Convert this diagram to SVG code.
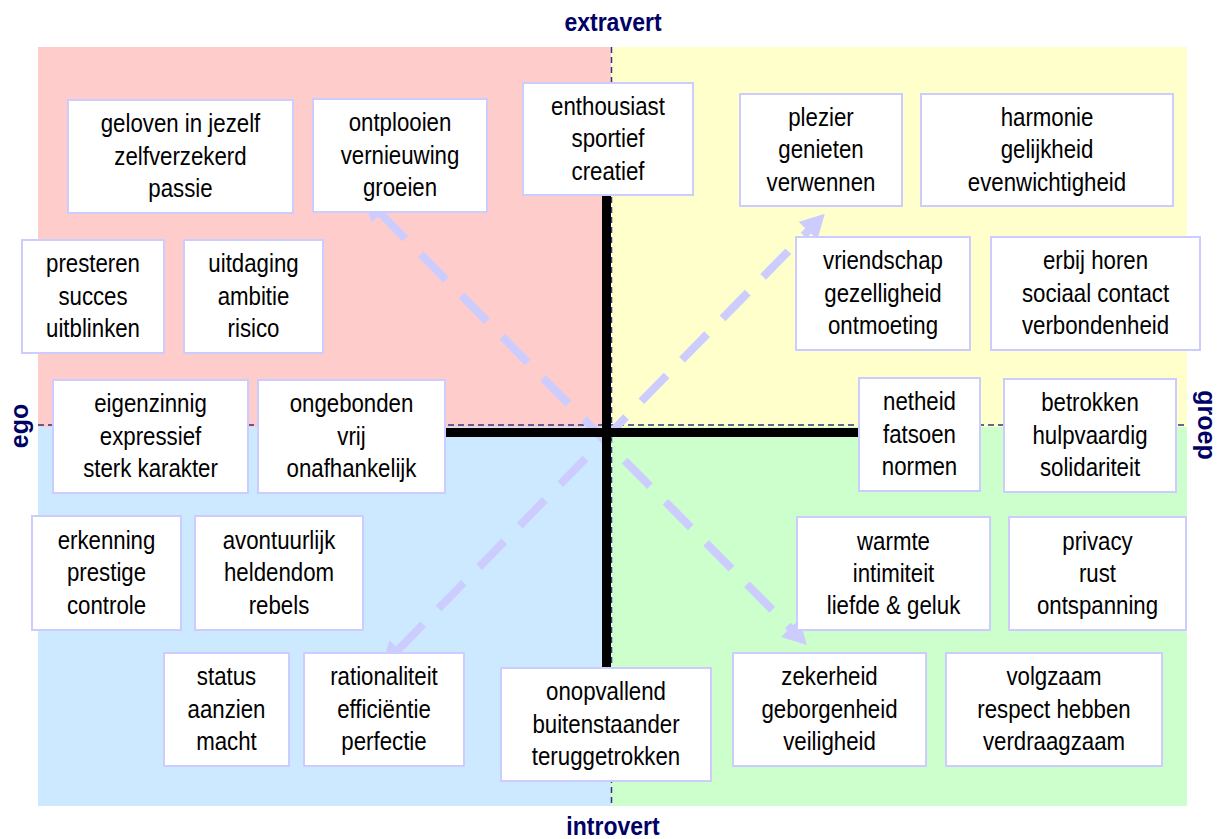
<svg xmlns="http://www.w3.org/2000/svg" width="1228" height="839" viewBox="0 0 1228 839">
<style>
.box{fill:#ffffff;stroke:#ccccff;stroke-width:2}
.t{font-family:"Liberation Sans",Arial,sans-serif;font-size:25px;fill:#000;text-anchor:middle}
.lbl{font-family:"Liberation Sans",Arial,sans-serif;font-size:25px;font-weight:bold;fill:#000066;text-anchor:middle}
.axis{stroke:#333380;stroke-width:1.5;stroke-dasharray:6 4;fill:none}
.cross{stroke:#000;stroke-width:9;fill:none}
.arr{stroke:#ccccff;stroke-width:8;stroke-dasharray:36 22;fill:none;marker-start:url(#ah);marker-end:url(#ah)}
</style>
<defs>
<marker id="ah" viewBox="0 0 24 26" refX="1" refY="13" markerWidth="24" markerHeight="26" markerUnits="userSpaceOnUse" orient="auto-start-reverse">
<path d="M0,0 L24,13 L0,26 Z" fill="#ccccff"/>
</marker>
</defs>
<rect width="1228" height="839" fill="#ffffff"/>
<g id="quadrants">
<rect x="38" y="47" width="573" height="380" fill="#ffcccc"/>
<rect x="611" y="47" width="576" height="380" fill="#ffffcc"/>
<rect x="38" y="427" width="573" height="379" fill="#cce9ff"/>
<rect x="611" y="427" width="576" height="379" fill="#ccffcc"/>
</g>
<g id="axes">
<line class="axis" x1="611.5" y1="47" x2="611.5" y2="806"/>
<line class="axis" x1="38" y1="425" x2="1187" y2="425"/>
</g>
<g id="connectors">
<line class="arr" x1="380" y1="213" x2="790.8" y2="628.6"/>
<line class="arr" x1="398" y1="650" x2="808.7" y2="230.3"/>
</g>
<g id="cross">
<line class="cross" x1="606.5" y1="190" x2="606.5" y2="670"/>
<line class="cross" x1="445" y1="432.5" x2="860" y2="432.5"/>
</g>
<g id="labels">
<text class="lbl" transform="translate(613,31) scale(0.92,1)" x="0" y="0">extravert</text>
<text class="lbl" transform="translate(613,835) scale(0.92,1)" x="0" y="0">introvert</text>
<text class="lbl" transform="translate(28,426) rotate(-90)" x="0" y="0">ego</text>
<text class="lbl" transform="translate(1198,425) rotate(90)" x="0" y="0">groep</text>
</g>
<g id="n1"><rect class="box" x="68" y="100" width="225" height="113"/><text class="t" transform="translate(180.5,0) scale(0.89,1)"><tspan x="0" y="132.5">geloven in jezelf</tspan><tspan x="0" y="165">zelfverzekerd</tspan><tspan x="0" y="197.5">passie</tspan></text></g>
<g id="n2"><rect class="box" x="313" y="99" width="174" height="113"/><text class="t" transform="translate(400,0) scale(0.89,1)"><tspan x="0" y="131.5">ontplooien</tspan><tspan x="0" y="164">vernieuwing</tspan><tspan x="0" y="196.5">groeien</tspan></text></g>
<g id="n3"><rect class="box" x="523" y="83" width="170" height="112"/><text class="t" transform="translate(608,0) scale(0.89,1)"><tspan x="0" y="115">enthousiast</tspan><tspan x="0" y="147.5">sportief</tspan><tspan x="0" y="180">creatief</tspan></text></g>
<g id="n4"><rect class="box" x="740" y="94" width="162" height="112"/><text class="t" transform="translate(821,0) scale(0.89,1)"><tspan x="0" y="126">plezier</tspan><tspan x="0" y="158.5">genieten</tspan><tspan x="0" y="191">verwennen</tspan></text></g>
<g id="n5"><rect class="box" x="921" y="94" width="252" height="112"/><text class="t" transform="translate(1047,0) scale(0.89,1)"><tspan x="0" y="126">harmonie</tspan><tspan x="0" y="158.5">gelijkheid</tspan><tspan x="0" y="191">evenwichtigheid</tspan></text></g>
<g id="n6"><rect class="box" x="22" y="240" width="142" height="113"/><text class="t" transform="translate(93,0) scale(0.89,1)"><tspan x="0" y="272.5">presteren</tspan><tspan x="0" y="305">succes</tspan><tspan x="0" y="337.5">uitblinken</tspan></text></g>
<g id="n7"><rect class="box" x="184" y="240" width="139" height="113"/><text class="t" transform="translate(253.5,0) scale(0.89,1)"><tspan x="0" y="272.5">uitdaging</tspan><tspan x="0" y="305">ambitie</tspan><tspan x="0" y="337.5">risico</tspan></text></g>
<g id="n8"><rect class="box" x="796" y="237" width="174" height="113"/><text class="t" transform="translate(883,0) scale(0.89,1)"><tspan x="0" y="269.5">vriendschap</tspan><tspan x="0" y="302">gezelligheid</tspan><tspan x="0" y="334.5">ontmoeting</tspan></text></g>
<g id="n9"><rect class="box" x="991" y="237" width="209" height="113"/><text class="t" transform="translate(1095.5,0) scale(0.89,1)"><tspan x="0" y="269.5">erbij horen</tspan><tspan x="0" y="302">sociaal contact</tspan><tspan x="0" y="334.5">verbondenheid</tspan></text></g>
<g id="n10"><rect class="box" x="53" y="380" width="195" height="113"/><text class="t" transform="translate(150.5,0) scale(0.89,1)"><tspan x="0" y="412.5">eigenzinnig</tspan><tspan x="0" y="445">expressief</tspan><tspan x="0" y="477.5">sterk karakter</tspan></text></g>
<g id="n11"><rect class="box" x="258" y="380" width="187" height="113"/><text class="t" transform="translate(351.5,0) scale(0.89,1)"><tspan x="0" y="412.5">ongebonden</tspan><tspan x="0" y="445">vrij</tspan><tspan x="0" y="477.5">onafhankelijk</tspan></text></g>
<g id="n12"><rect class="box" x="859" y="378" width="121" height="113"/><text class="t" transform="translate(919.5,0) scale(0.89,1)"><tspan x="0" y="410.5">netheid</tspan><tspan x="0" y="443">fatsoen</tspan><tspan x="0" y="475.5">normen</tspan></text></g>
<g id="n13"><rect class="box" x="1004" y="379" width="172" height="113"/><text class="t" transform="translate(1090,0) scale(0.89,1)"><tspan x="0" y="411.5">betrokken</tspan><tspan x="0" y="444">hulpvaardig</tspan><tspan x="0" y="476.5">solidariteit</tspan></text></g>
<g id="n14"><rect class="box" x="32" y="516" width="149" height="114"/><text class="t" transform="translate(106.5,0) scale(0.89,1)"><tspan x="0" y="549">erkenning</tspan><tspan x="0" y="581.5">prestige</tspan><tspan x="0" y="614">controle</tspan></text></g>
<g id="n15"><rect class="box" x="195" y="516" width="168" height="114"/><text class="t" transform="translate(279,0) scale(0.89,1)"><tspan x="0" y="549">avontuurlijk</tspan><tspan x="0" y="581.5">heldendom</tspan><tspan x="0" y="614">rebels</tspan></text></g>
<g id="n16"><rect class="box" x="797" y="517" width="193" height="113"/><text class="t" transform="translate(893.5,0) scale(0.89,1)"><tspan x="0" y="549.5">warmte</tspan><tspan x="0" y="582">intimiteit</tspan><tspan x="0" y="614.5">liefde &amp; geluk</tspan></text></g>
<g id="n17"><rect class="box" x="1009" y="517" width="177" height="113"/><text class="t" transform="translate(1097.5,0) scale(0.89,1)"><tspan x="0" y="549.5">privacy</tspan><tspan x="0" y="582">rust</tspan><tspan x="0" y="614.5">ontspanning</tspan></text></g>
<g id="n18"><rect class="box" x="164" y="653" width="125" height="113"/><text class="t" transform="translate(226.5,0) scale(0.89,1)"><tspan x="0" y="685.5">status</tspan><tspan x="0" y="718">aanzien</tspan><tspan x="0" y="750.5">macht</tspan></text></g>
<g id="n19"><rect class="box" x="304" y="653" width="160" height="113"/><text class="t" transform="translate(384,0) scale(0.89,1)"><tspan x="0" y="685.5">rationaliteit</tspan><tspan x="0" y="718">efficiëntie</tspan><tspan x="0" y="750.5">perfectie</tspan></text></g>
<g id="n20"><rect class="box" x="501" y="668" width="210" height="113"/><text class="t" transform="translate(606,0) scale(0.89,1)"><tspan x="0" y="700.5">onopvallend</tspan><tspan x="0" y="733">buitenstaander</tspan><tspan x="0" y="765.5">teruggetrokken</tspan></text></g>
<g id="n21"><rect class="box" x="733" y="653" width="193" height="113"/><text class="t" transform="translate(829.5,0) scale(0.89,1)"><tspan x="0" y="685.5">zekerheid</tspan><tspan x="0" y="718">geborgenheid</tspan><tspan x="0" y="750.5">veiligheid</tspan></text></g>
<g id="n22"><rect class="box" x="946" y="653" width="216" height="113"/><text class="t" transform="translate(1054,0) scale(0.89,1)"><tspan x="0" y="685.5">volgzaam</tspan><tspan x="0" y="718">respect hebben</tspan><tspan x="0" y="750.5">verdraagzaam</tspan></text></g>
</svg>
